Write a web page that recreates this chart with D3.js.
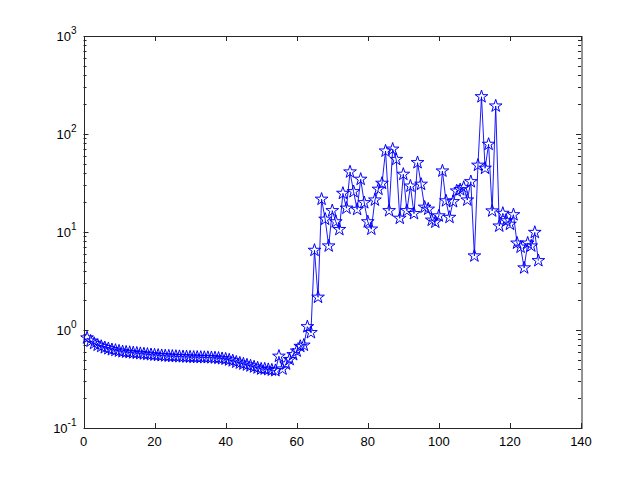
<!DOCTYPE html>
<html>
<head>
<meta charset="utf-8">
<script src="https://cdn.jsdelivr.net/npm/d3@7/dist/d3.min.js"></script>
<style>
  body { margin: 0; background: #fff; }
  svg { display: block; font-family: "Liberation Sans", Arial, sans-serif; }
</style>
</head>
<body>
<svg id="chart" width="642" height="481"></svg>
<script>
// series, one value per sample index 1..128
const xs = d3.range(1, 129);
const ys = [
  0.83, 0.77, 0.73, 0.70, 0.68, 0.66, 0.645, 0.63, 0.62, 0.61,
  0.60, 0.595, 0.59, 0.585, 0.58, 0.575, 0.57, 0.565, 0.56, 0.556,
  0.552, 0.548, 0.545, 0.542, 0.54, 0.538, 0.536, 0.534, 0.532, 0.53,
  0.528, 0.527, 0.526, 0.525, 0.524, 0.522, 0.52, 0.515, 0.51, 0.505,
  0.495, 0.485, 0.47, 0.46, 0.45, 0.44, 0.43, 0.42, 0.41, 0.40,
  0.40, 0.395, 0.39, 0.385, 0.54, 0.40, 0.45, 0.50, 0.56, 0.61,
  0.68, 0.70, 1.08, 0.94, 6.5, 2.16, 21.6, 13.5, 7.2, 16.5,
  12.7, 10.6, 24.8, 17.5, 41, 25.8, 17, 34.5, 19.9, 12.7,
  10.7, 21.2, 27.3, 31.4, 67, 16.5, 70, 55, 13.8, 38.8,
  16.5, 29.4, 15.4, 51, 30.7, 17.9, 17.1, 13.2, 12.6, 14.6,
  41.9, 20.8, 14.1, 20.4, 26.2, 27, 28.5, 21.2, 32.6, 5.7,
  48, 240, 44.7, 78.5, 16.4, 193, 11.5, 15.5, 13, 12,
  15, 7.7, 7.0, 4.3, 7.7, 7.2, 9.9, 5.1
];
const xTicks = [0, 20, 40, 60, 80, 100, 120, 140];
const yTicks = [0.1, 1, 10, 100, 1000];
const yExponents = [-1, 0, 1, 2, 3];

// plot box (MATLAB default axes position)
const box = { left: 83.5, right: 581, top: 36, bottom: 428 };

const svg = d3.select('#chart');
const x = d3.scaleLinear().domain([0, 140]).range([box.left, box.right]);
const y = d3.scaleLog().domain([0.1, 1000]).range([box.bottom, box.top]);

const axisColor = '#262626';
const tickLen = 5;

// minor ticks for log axis
const minor = [];
for (let e = -1; e < 3; e++) {
  for (let m = 2; m <= 9; m++) minor.push(m * Math.pow(10, e));
}

const axes = svg.append('g');

axes.append('rect')
    .attr('x', Math.round(box.left) + 0.5).attr('y', box.top + 0.5)
    .attr('width', box.right - box.left).attr('height', box.bottom - box.top)
    .attr('fill', 'none').attr('stroke', axisColor).attr('stroke-width', 1);

// x ticks, bottom and top, pointing inward
xTicks.forEach(t => {
  const px = Math.round(x(t)) + 0.5;
  axes.append('line').attr('x1', px).attr('x2', px)
      .attr('y1', box.bottom).attr('y2', box.bottom - tickLen).attr('stroke', axisColor);
  axes.append('line').attr('x1', px).attr('x2', px)
      .attr('y1', box.top).attr('y2', box.top + tickLen).attr('stroke', axisColor);
  axes.append('text')
      .attr('x', x(t)).attr('y', box.bottom + 18)
      .attr('text-anchor', 'middle').attr('font-size', 13).attr('fill', '#000')
      .text(t);
});

// y ticks (major and minor), left and right
yTicks.concat(minor).forEach(t => {
  const py = Math.round(y(t)) + 0.5;
  const len = yTicks.includes(t) ? tickLen : tickLen * 0.6;
  axes.append('line').attr('x1', box.left).attr('x2', box.left + len)
      .attr('y1', py).attr('y2', py).attr('stroke', axisColor);
  axes.append('line').attr('x1', box.right).attr('x2', box.right - len)
      .attr('y1', py).attr('y2', py).attr('stroke', axisColor);
});

// y labels as 10^n
yTicks.forEach((t, i) => {
  const txt = axes.append('text')
      .attr('x', box.left - 7).attr('y', y(t) + 5)
      .attr('text-anchor', 'end').attr('font-size', 13).attr('fill', '#000');
  txt.append('tspan').text('10');
  txt.append('tspan').attr('dy', -7).attr('font-size', 10).text(yExponents[i]);
});

// line + star markers
const pts = xs.map((d, i) => [d, ys[i]]);
svg.append('path')
    .datum(pts)
    .attr('fill', 'none')
    .attr('stroke', '#0000ff')
    .attr('stroke-width', 0.9)
    .attr('d', d3.line().x(d => x(d[0])).y(d => y(d[1])));

const star = d3.symbol().type(d3.symbolStar).size(50);
svg.append('g').selectAll('path')
    .data(pts)
    .join('path')
    .attr('transform', d => `translate(${x(d[0])},${y(d[1])})`)
    .attr('d', star)
    .attr('fill', 'none')
    .attr('stroke', '#0000ff')
    .attr('stroke-width', 1);
</script>
</body>
</html>
